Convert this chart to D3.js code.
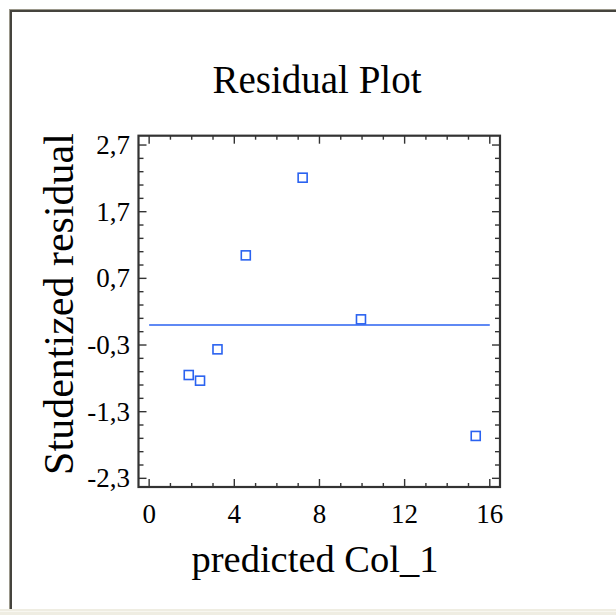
<!DOCTYPE html>
<html><head><meta charset="utf-8">
<script src="https://cdn.jsdelivr.net/npm/d3@7"></script>
<style>html,body{margin:0;padding:0;background:#fff;}svg{display:block;}</style>
</head><body>
<script>
const title = "Residual Plot";
const xLabel = "predicted Col_1";
const yLabel = "Studentized residual";
const predicted = [7.21, 4.54, 9.95, 3.21, 1.86, 2.39, 15.34];
const residual = [2.21, 1.045, 0.085, -0.365, -0.75, -0.835, -1.664];
const xTicks = [0, 4, 8, 12, 16];
const yTicks = [2.7, 1.7, 0.7, -0.3, -1.3, -2.3];
const zeroLine = [[0, 0], [16, 0]];

const W = 616, H = 615;
const svg = d3.select("body").append("svg").attr("width", W).attr("height", H);
const font = "'Liberation Serif', 'Times New Roman', serif";

// window frame
svg.append("rect").attr("x", 0).attr("y", 609).attr("width", W).attr("height", 6).attr("fill", "#efede2");
svg.append("line").attr("x1", 0).attr("x2", W).attr("y1", 611.5).attr("y2", 611.5).attr("stroke", "#f8f7f0").attr("stroke-width", 1);
svg.append("line").attr("x1", 11).attr("x2", 11).attr("y1", 10).attr("y2", 609).attr("stroke", "#45443e").attr("stroke-width", 2);
svg.append("line").attr("x1", 10).attr("x2", W).attr("y1", 11).attr("y2", 11).attr("stroke", "#45443e").attr("stroke-width", 2);
svg.append("line").attr("x1", 9.5).attr("x2", 9.5).attr("y1", 9).attr("y2", 609).attr("stroke", "#9a978a").attr("stroke-width", 1);
svg.append("line").attr("x1", 9).attr("x2", W).attr("y1", 9.5).attr("y2", 9.5).attr("stroke", "#9a978a").attr("stroke-width", 1);

const L = 138.5, R = 500, T = 135.7, B = 487;
const x = d3.scaleLinear().domain([-0.5, 16.48]).range([L, R]);
const y = d3.scaleLinear().domain([-2.43, 2.84]).range([B, T]);

const axisColor = "#333";
const g = svg.append("g");

const xMinor = d3.range(0, 17, 1);
const yMinor = d3.range(-2.3, 2.71, 0.2).map(v => Math.round(v * 10) / 10);
const isMajorY = v => yTicks.some(t => Math.abs(t - v) < 1e-6);

xMinor.forEach(v => {
  const len = xTicks.includes(v) ? 8 : 4;
  g.append("line").attr("x1", x(v)).attr("x2", x(v)).attr("y1", B).attr("y2", B - len).attr("stroke", axisColor).attr("stroke-width", 1.4);
  g.append("line").attr("x1", x(v)).attr("x2", x(v)).attr("y1", T).attr("y2", T + len).attr("stroke", axisColor).attr("stroke-width", 1.4);
});
yMinor.forEach(v => {
  const len = isMajorY(v) ? 8 : 5;
  g.append("line").attr("x1", L).attr("x2", L + len).attr("y1", y(v)).attr("y2", y(v)).attr("stroke", axisColor).attr("stroke-width", 1.4);
  g.append("line").attr("x1", R).attr("x2", R - len).attr("y1", y(v)).attr("y2", y(v)).attr("stroke", axisColor).attr("stroke-width", 1.4);
});

g.append("rect").attr("x", L).attr("y", T).attr("width", R - L).attr("height", B - T)
  .attr("fill", "none").attr("stroke", axisColor).attr("stroke-width", 2.2);

xTicks.forEach(v => {
  svg.append("text").attr("x", x(v)).attr("y", 523).attr("text-anchor", "middle")
    .attr("font-family", font).attr("font-size", 27).attr("fill", "#000").text(v);
});
yTicks.forEach(v => {
  svg.append("text").attr("x", 130).attr("y", y(v) + 9).attr("text-anchor", "end")
    .attr("font-family", font).attr("font-size", 27).attr("fill", "#000").text(String(v).replace(".", ","));
});

svg.append("text").attr("x", 317).attr("y", 93).attr("text-anchor", "middle")
  .attr("font-family", font).attr("font-size", 39).attr("fill", "#000").text(title);
svg.append("text").attr("x", 315).attr("y", 572).attr("text-anchor", "middle")
  .attr("font-family", font).attr("font-size", 38.5).attr("fill", "#000").text(xLabel);
svg.append("text").attr("transform", "translate(73,304) rotate(-90)").attr("text-anchor", "middle")
  .attr("font-family", font).attr("font-size", 42).attr("fill", "#000").text(yLabel);

svg.append("path").datum(zeroLine)
  .attr("d", d3.line().x(d => x(d[0])).y(d => y(d[1])))
  .attr("stroke", "#2a62f0").attr("stroke-width", 1.6).attr("fill", "none");

const s = 9;
svg.selectAll("rect.pt").data(predicted.map((p, i) => [p, residual[i]])).enter()
  .append("rect").attr("class", "pt")
  .attr("x", d => x(d[0]) - s / 2).attr("y", d => y(d[1]) - s / 2)
  .attr("width", s).attr("height", s)
  .attr("fill", "#fff").attr("stroke", "#2a62f0").attr("stroke-width", 1.6);
</script>
</body></html>
